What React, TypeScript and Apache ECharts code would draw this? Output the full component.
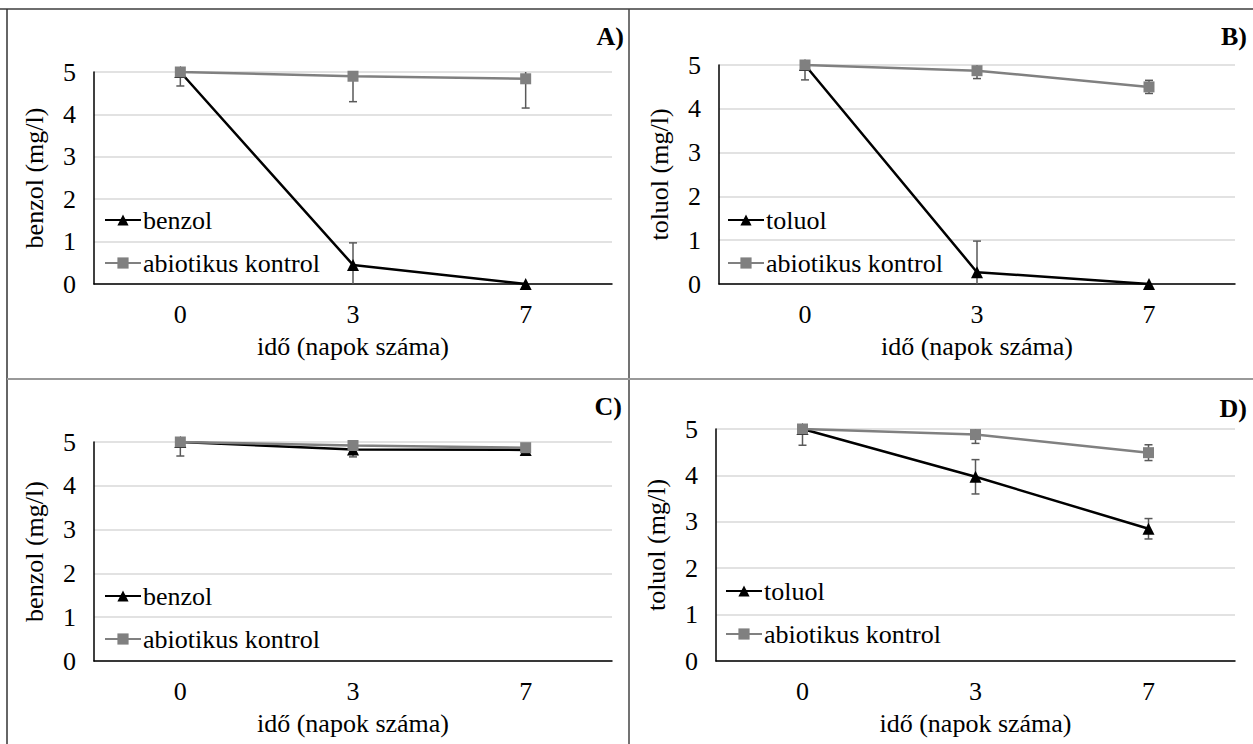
import React, { useEffect, useRef } from "react";
import * as echarts from "echarts";

// ---- data ----
const days = ["0", "3", "7"];
const benzolA = [5, 0.45, 0];
const benzolAErr = [0.33, 0.52, 0];
const kontrolA = [5, 4.9, 4.84];
const kontrolAErr = [0.03, 0.6, 0.69];

const toluolB = [5, 0.27, 0];
const toluolBErr = [0.34, 0.71, 0];
const kontrolB = [5, 4.87, 4.5];
const kontrolBErr = [0.03, 0.18, 0.15];

const benzolC = [5, 4.83, 4.82];
const benzolCErr = [0.32, 0.17, 0.03];
const kontrolC = [5, 4.92, 4.87];
const kontrolCErr = [0.04, 0.04, 0.04];

const toluolD = [5, 3.97, 2.85];
const toluolDErr = [0.35, 0.37, 0.22];
const kontrolD = [5, 4.88, 4.49];
const kontrolDErr = [0.04, 0.19, 0.17];

const panelLabels = ["A)", "B)", "C)", "D)"];
const substanceNames = ["benzol", "toluol", "benzol", "toluol"];
const yTitles = ["benzol (mg/l)", "toluol (mg/l)", "benzol (mg/l)", "toluol (mg/l)"];
const xTitle = "idő (napok száma)";
const kontrolName = "abiotikus kontrol";
const yMin = 0;
const yMax = 5;
const yInterval = 1;

const substanceSeries = [benzolA, toluolB, benzolC, toluolD];
const substanceErr = [benzolAErr, toluolBErr, benzolCErr, toluolDErr];
const kontrolSeries = [kontrolA, kontrolB, kontrolC, kontrolD];
const kontrolErrs = [kontrolAErr, kontrolBErr, kontrolCErr, kontrolDErr];

// ---- layout / style ----
const FONT = "Liberation Serif";
const FS = 26;
const grids = [
  { left: 94, top: 72, width: 518, height: 212 },
  { left: 719, top: 65, width: 516, height: 219 },
  { left: 94, top: 442, width: 518, height: 219 },
  { left: 716, top: 429, width: 519, height: 232 },
];
const legendPos = [
  { left: 99, top: 202 },
  { left: 722, top: 202 },
  { left: 99, top: 578 },
  { left: 720, top: 573 },
];
const labelPos = [
  { x: 624, y: 36 },
  { x: 1247, y: 36 },
  { x: 622, y: 406 },
  { x: 1247, y: 408 },
];

const BLACK = "#000000";
const GRAY = "#808080";
const ERR = "#595959";

function errData(vals: number[], errs: number[]) {
  return vals
    .map((v, i) => {
      const lo = v - errs[i];
      const hi = v + errs[i];
      return [i, Math.max(yMin, lo), Math.min(yMax, hi), lo >= yMin ? 1 : 0, hi <= yMax ? 1 : 0, errs[i]];
    })
    .filter((d) => d[5] > 0);
}

function renderErr(params: any, api: any) {
  const x = api.value(0);
  const lo = api.value(1);
  const hi = api.value(2);
  const capLo = api.value(3);
  const capHi = api.value(4);
  const pLo = api.coord([x, lo]);
  const pHi = api.coord([x, hi]);
  const hw = 4;
  const style = { stroke: ERR, lineWidth: 1.5 };
  const children: any[] = [
    { type: "line", shape: { x1: pLo[0], y1: pLo[1], x2: pHi[0], y2: pHi[1] }, style },
  ];
  if (capLo) children.push({ type: "line", shape: { x1: pLo[0] - hw, y1: pLo[1], x2: pLo[0] + hw, y2: pLo[1] }, style });
  if (capHi) children.push({ type: "line", shape: { x1: pHi[0] - hw, y1: pHi[1], x2: pHi[0] + hw, y2: pHi[1] }, style });
  return { type: "group", children };
}

export default function App() {
  const ref = useRef<HTMLDivElement>(null);
  useEffect(() => {
    if (!ref.current) return;
    const chart = echarts.init(ref.current, undefined, { renderer: "svg" });
    const xAxis: any[] = [];
    const yAxis: any[] = [];
    const series: any[] = [];
    const legend: any[] = [];
    grids.forEach((g, k) => {
      xAxis.push({
        type: "category",
        gridIndex: k,
        data: days,
        boundaryGap: true,
        axisLine: { lineStyle: { color: BLACK, width: 1.5 } },
        axisTick: { show: false },
        axisLabel: { fontFamily: FONT, fontSize: FS, color: BLACK, margin: 17 },
        name: xTitle,
        nameLocation: "middle",
        nameGap: 49,
        nameTextStyle: { fontFamily: FONT, fontSize: FS, color: BLACK },
      });
      yAxis.push({
        type: "value",
        gridIndex: k,
        min: yMin,
        max: yMax,
        interval: yInterval,
        axisLine: { show: true, lineStyle: { color: BLACK, width: 1.5 } },
        axisTick: { show: false },
        axisLabel: { fontFamily: FONT, fontSize: FS, color: BLACK, margin: 18 },
        splitLine: { lineStyle: { color: "#d9d9d9", width: 1.5 } },
        name: yTitles[k],
        nameLocation: "middle",
        nameRotate: 90,
        nameGap: 47,
        nameTextStyle: { fontFamily: FONT, fontSize: FS, color: BLACK },
      });
      series.push({
        type: "custom",
        name: "err-s-" + k,
        xAxisIndex: k,
        yAxisIndex: k,
        renderItem: renderErr,
        data: errData(substanceSeries[k], substanceErr[k]),
        encode: { x: 0, y: [1, 2] },
        z: 1,
        silent: true,
      });
      series.push({
        type: "custom",
        name: "err-k-" + k,
        xAxisIndex: k,
        yAxisIndex: k,
        renderItem: renderErr,
        data: errData(kontrolSeries[k], kontrolErrs[k]),
        encode: { x: 0, y: [1, 2] },
        z: 1,
        silent: true,
      });
      series.push({
        type: "line",
        name: substanceNames[k],
        xAxisIndex: k,
        yAxisIndex: k,
        data: substanceSeries[k],
        symbol: "triangle",
        symbolSize: 12,
        lineStyle: { color: BLACK, width: 2.5 },
        itemStyle: { color: BLACK },
        z: 2,
      });
      series.push({
        type: "line",
        name: kontrolName,
        xAxisIndex: k,
        yAxisIndex: k,
        data: kontrolSeries[k],
        symbol: "rect",
        symbolSize: 11,
        lineStyle: { color: GRAY, width: 2.5 },
        itemStyle: { color: GRAY },
        z: 3,
      });
      legend.push({
        data: [substanceNames[k], kontrolName],
        orient: "vertical",
        left: legendPos[k].left,
        top: legendPos[k].top,
        itemWidth: 36,
        itemHeight: 14,
        itemGap: 17,
        selectedMode: false,
        textStyle: { fontFamily: FONT, fontSize: FS, color: BLACK, lineHeight: 26, padding: [0, 0, 0, -3] },
      });
    });

    const graphic: any[] = [
      { type: "line", shape: { x1: 0, y1: 9, x2: 1253, y2: 9 }, style: { stroke: "#6e6e6e", lineWidth: 2 } },
      { type: "line", shape: { x1: 7, y1: 9, x2: 7, y2: 744 }, style: { stroke: "#333333", lineWidth: 1.5 } },
      { type: "line", shape: { x1: 629, y1: 9, x2: 629, y2: 744 }, style: { stroke: "#444444", lineWidth: 1.5 } },
      { type: "line", shape: { x1: 7, y1: 379, x2: 1253, y2: 379 }, style: { stroke: "#999999", lineWidth: 2 } },
    ];
    panelLabels.forEach((t, k) => {
      graphic.push({
        type: "text",
        x: labelPos[k].x,
        y: labelPos[k].y,
        style: {
          text: t,
          fontFamily: FONT,
          fontSize: FS,
          fontWeight: "bold",
          fill: BLACK,
          align: "right",
          verticalAlign: "middle",
        },
      });
    });

    chart.setOption({
      animation: false,
      backgroundColor: "#ffffff",
      textStyle: { fontFamily: FONT },
      grid: grids.map((g) => ({ ...g, containLabel: false })),
      xAxis,
      yAxis,
      legend,
      series,
      graphic,
    });
    return () => chart.dispose();
  }, []);
  return (
    <div
      ref={ref}
      style={{ position: "absolute", left: 0, top: 0, width: 1253, height: 744, background: "#fff" }}
    />
  );
}
